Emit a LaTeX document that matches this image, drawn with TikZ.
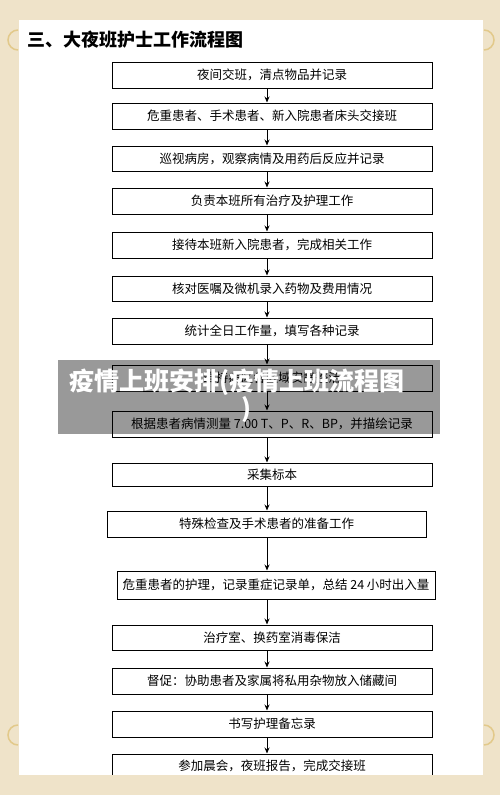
\documentclass[tikz,border=0pt]{standalone}
\usepackage{fontspec}
\setmainfont{Liberation Serif}
\newfontfamily\cjk{Noto Sans CJK SC}
\usetikzlibrary{arrows.meta}
\definecolor{beige}{HTML}{EFE3C9}
\definecolor{ornament}{HTML}{E2C98A}
\tikzset{
  stepbox/.style={draw=black,line width=1pt,fill=white,minimum width=320pt,minimum height=26pt,inner sep=0pt,font=\cjk\fontsize{12.5pt}{14pt}\selectfont},
  arr/.style={line width=0.9pt,-{Stealth[length=6pt,width=5pt]}},
  bantext/.style={text=white,font=\cjk\bfseries\fontsize{25pt}{27pt}\selectfont,inner sep=0pt},
}
\begin{document}
\begin{tikzpicture}[x=1pt,y=-1pt]
\useasboundingbox (0,0) rectangle (500,795);
\fill[beige] (0,0) rectangle (500,795);
% faint corner ornaments
\draw[ornament,line width=1.5pt] (18,50) arc (90:270:10);
\draw[ornament,line width=1.5pt] (484,50) arc (90:-90:10);
\draw[ornament,line width=1.5pt] (18,745) arc (90:270:10);
\draw[ornament,line width=1.5pt] (484,745) arc (90:-90:10);
\fill[white] (19,20) rectangle (483,775);
\node[anchor=west,font=\cjk\bfseries\fontsize{18pt}{20pt}\selectfont] (title) at (24,40) {三、大夜班护士工作流程图};
\coordinate (ax) at (267,0);
\node[stepbox] (b1) at (272,75) {夜间交班，清点物品并记录};
\node[stepbox] (b2) at (272,116) {危重患者、手术患者、新入院患者床头交接班};
\node[stepbox,minimum height=25pt] (b3) at (272,158.5) {巡视病房，观察病情及用药后反应并记录};
\node[stepbox] (b4) at (272,201) {负责本班所有治疗及护理工作};
\node[stepbox] (b5) at (272,245) {接待本班新入院患者，完成相关工作};
\node[stepbox,minimum height=25pt] (b6) at (272,288.5) {核对医嘱及微机录入药物及费用情况};
\node[stepbox] (b7) at (272,331) {统计全日工作量，填写各种记录};
\node[stepbox] (b8) at (272,378) {维持病区各区域安静整洁};
\node[stepbox] (b9) at (272,424) {{\cjk 根据患者病情测量} 7.00 T{\cjk 、}P{\cjk 、}R{\cjk 、}BP{\cjk ，并描绘记录}};
\node[stepbox,minimum height=23pt] (b10) at (272,474.5) {采集标本};
\node[stepbox,minimum width=319pt] (b11) at (266.5,524) {特殊检查及手术患者的准备工作};
\node[stepbox,minimum width=318pt,minimum height=28pt] (b12) at (276,585) {危重患者的护理，记录重症记录单，总结 24 小时出入量};
\node[stepbox,minimum height=25pt] (b13) at (272,637.5) {治疗室、换药室消毒保洁};
\node[stepbox] (b14) at (272,681) {督促：协助患者及家属将私用杂物放入储藏间};
\node[stepbox] (b15) at (272,724) {书写护理备忘录};
\node[stepbox,minimum height=40pt] (b16) at (272,774) {};
\node[font=\cjk\fontsize{12.5pt}{14pt}\selectfont] (t16) at (272,766) {参加晨会，夜班报告，完成交接班};
\foreach \a/\b in {b1/b2,b2/b3,b3/b4,b4/b5,b5/b6,b6/b7,b7/b8,b8/b9,b9/b10,b10/b11,b11/b12,b12/b13,b13/b14,b14/b15,b15/b16}{
  \draw[arr] (\a.south -| ax) -- (\b.north -| ax);
}
% bottom strip cutting the last box
\fill[beige] (0,775) rectangle (500,795);
% overlay banner
\fill[black,opacity=0.4] (58,360) rectangle (440,434);
\node[anchor=west,bantext] (ban1) at (69,382) {疫情上班安排(疫情上班流程图};
\node[bantext] (ban2) at (246,410) {)};
\end{tikzpicture}
\end{document}
